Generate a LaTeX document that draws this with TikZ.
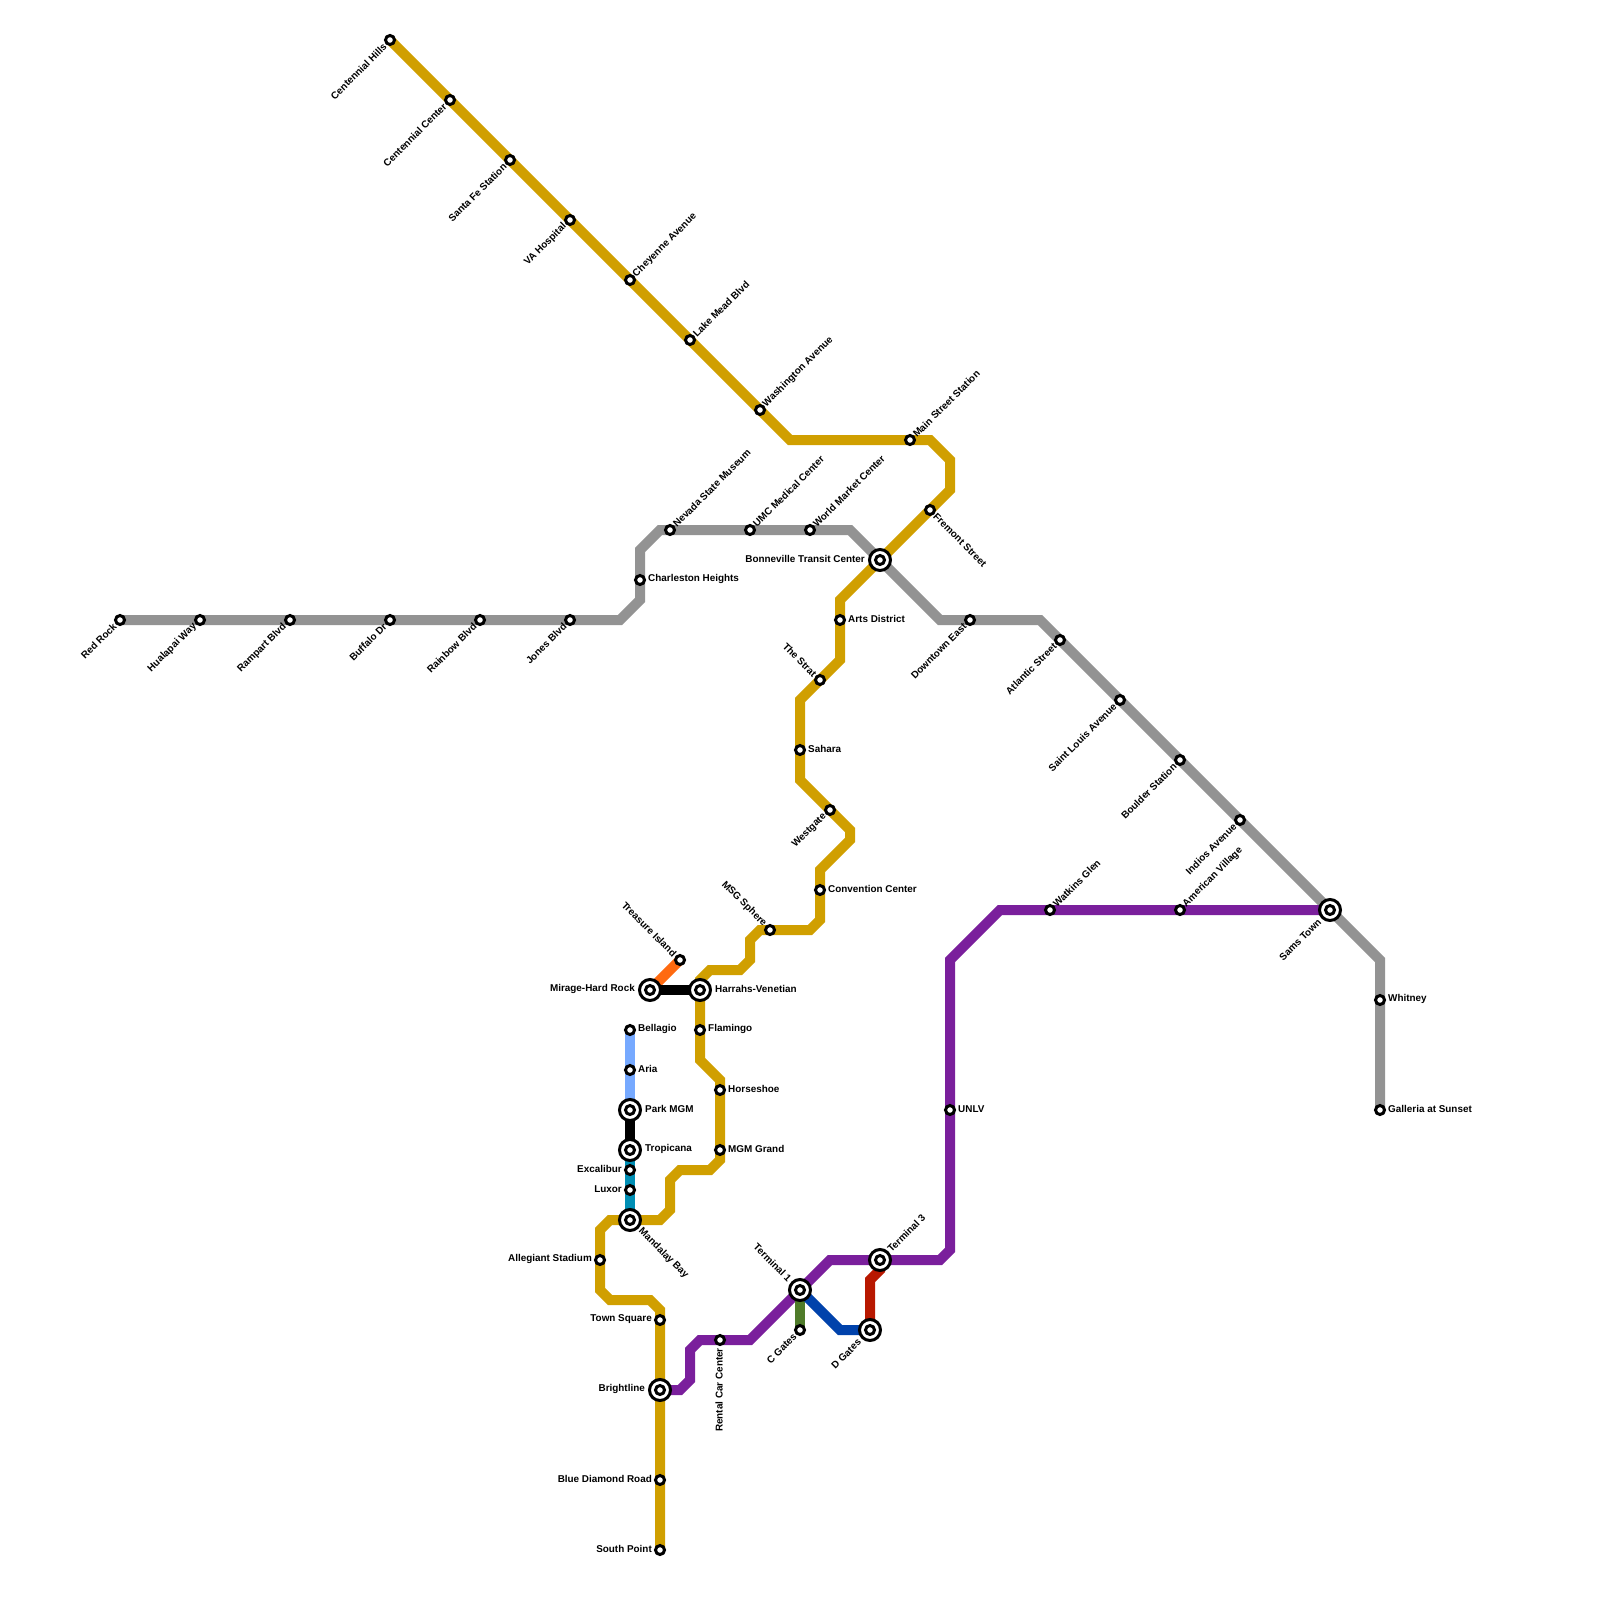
\documentclass[tikz,border=0pt]{standalone}
\usepackage{fontspec}
\setmainfont{Liberation Sans}
\usetikzlibrary{backgrounds}

\definecolor{goldln}{HTML}{D09F00}
\definecolor{grayln}{HTML}{939393}
\definecolor{purpleln}{HTML}{7A1F9C}
\definecolor{orangeln}{HTML}{FF6A10}
\definecolor{skyln}{HTML}{76A9FF}
\definecolor{tealln}{HTML}{008FB5}
\definecolor{greenln}{HTML}{4F7B2A}
\definecolor{blueln}{HTML}{0042AB}
\definecolor{redln}{HTML}{B81800}

\begin{document}
\begin{tikzpicture}[
  x=1pt, y=-1pt,
  ln/.style   ={line width=10pt},
  stn/.style  ={circle, draw=black, fill=white, line width=3pt, minimum size=9pt, inner sep=0pt, outer sep=0pt},
  hub/.style  ={circle, draw=black, fill=white, line width=3pt, minimum size=21pt, inner sep=0pt, outer sep=0pt,
                path picture={\draw[line width=3pt] (path picture bounding box.center) circle (4.5pt);}},
  lab/.style  ={font=\fontsize{9.9}{10}\selectfont\bfseries, inner sep=0pt, text=black},
  % label sides ------------------------------------
  sd/.style n args={4}{append after command={(\tikzlastnode.center)
        node[lab, name=\tikzlastnode-lab, xshift=#1pt, yshift=#2pt, rotate=#3, anchor=#4] {\lbltxt}}},
  lE/.style   ={sd={8}{0.8}{0}{west}, lbl={#1}},
  lW/.style   ={sd={-8}{0.8}{0}{east}, lbl={#1}},
  hE/.style   ={sd={15}{0.8}{0}{west}, lbl={#1}},
  hW/.style   ={sd={-15}{0.8}{0}{east}, lbl={#1}},
  lNE/.style  ={sd={4.5}{4.5}{45}{west}, lbl={#1}},
  lSW/.style  ={sd={-5}{-5}{45}{east}, lbl={#1}},
  lNW/.style  ={sd={-5}{5}{-45}{east}, lbl={#1}},
  lSE/.style  ={sd={5}{-5}{-45}{west}, lbl={#1}},
  lS/.style   ={sd={-1}{-8}{90}{east}, lbl={#1}},
  hNE/.style  ={sd={9}{9.5}{45}{west}, lbl={#1}},
  hSW/.style  ={sd={-10.5}{-10.5}{45}{east}, lbl={#1}},
  hNW/.style  ={sd={-10}{10}{-45}{east}, lbl={#1}},
  hSE/.style  ={sd={10}{-10}{-45}{west}, lbl={#1}},
  lbl/.code   ={\gdef\lbltxt{#1}},
]
\useasboundingbox (0,0) rectangle (1600,1600);

% =========================== GOLD STATIONS ==========================
\node[stn, lSW=Centennial Hills]  (chills)  at (390,40)  {};
\node[stn, lSW=Centennial Center] (ccenter) at (450,100) {};
\node[stn, lSW=Santa Fe Station]  (santafe) at (510,160) {};
\node[stn, lSW=VA Hospital]       (vahosp)  at (570,220) {};
\node[stn, lNE=Cheyenne Avenue]   (cheyenne) at (630,280) {};
\node[stn, lNE=Lake Mead Blvd]    (lakemead) at (690,340) {};
\node[stn, lNE=Washington Avenue] (washington) at (760,410) {};
\node[stn, lNE=Main Street Station] (mainst) at (910,440) {};
\node[stn, lSE=Fremont Street]    (fremont) at (930,510) {};
\node[hub, hW=Bonneville Transit Center] (bonneville) at (880,560) {};
\node[stn, lE=Arts District]      (arts)    at (840,620) {};
\node[stn, lNW=The Strat]         (strat)   at (820,680) {};
\node[stn, lE=Sahara]             (sahara)  at (800,750) {};
\node[stn, lSW=Westgate]          (westgate) at (830,810) {};
\node[stn, lE=Convention Center]  (convention) at (820,890) {};
\node[stn, lNW=MSG Sphere]        (sphere)  at (770,930) {};
\node[hub, hE=Harrahs-Venetian]   (harrahs) at (700,990) {};
\node[stn, lE=Flamingo]           (flamingo) at (700,1030) {};
\node[stn, lE=Horseshoe]          (horseshoe) at (720,1090) {};
\node[stn, lE=MGM Grand]          (mgm)     at (720,1150) {};
\node[hub, hSE=Mandalay Bay]      (mandalay) at (630,1220) {};
\node[stn, lW=Allegiant Stadium]  (allegiant) at (600,1260) {};
\node[stn, lW=Town Square]        (townsq)  at (660,1320) {};
\node[hub, hW=Brightline]         (brightline) at (660,1390) {};
\node[stn, lW=Blue Diamond Road]  (bluediamond) at (660,1480) {};
\node[stn, lW=South Point]        (southpt) at (660,1550) {};

% =========================== GRAY STATIONS ==========================
\node[stn, lSW=Red Rock]          (redrock) at (120,620) {};
\node[stn, lSW=Hualapai Way]      (hualapai) at (200,620) {};
\node[stn, lSW=Rampart Blvd]      (rampart) at (290,620) {};
\node[stn, lSW=Buffalo Dr]        (buffalo) at (390,620) {};
\node[stn, lSW=Rainbow Blvd]      (rainbow) at (480,620) {};
\node[stn, lSW=Jones Blvd]        (jones)   at (570,620) {};
\node[stn, lE=Charleston Heights] (charleston) at (640,580) {};
\node[stn, lNE=Nevada State Museum] (museum) at (670,530) {};
\node[stn, lNE=UMC Medical Center] (umc)    at (750,530) {};
\node[stn, lNE=World Market Center] (market) at (810,530) {};
\node[stn, lSW=Downtown East]     (downtown) at (970,620) {};
\node[stn, lSW=Atlantic Street]   (atlantic) at (1060,640) {};
\node[stn, lSW=Saint Louis Avenue] (stlouis) at (1120,700) {};
\node[stn, lSW=Boulder Station]   (boulder) at (1180,760) {};
\node[stn, lSW=Indios Avenue]     (indios)  at (1240,820) {};
\node[hub, hSW=Sams Town]         (sams)    at (1330,910) {};
\node[stn, lE=Whitney]            (whitney) at (1380,1000) {};
\node[stn, lE=Galleria at Sunset] (galleria) at (1380,1110) {};

% ========================== PURPLE STATIONS =========================
\node[stn, lNE=American Village]  (american) at (1180,910) {};
\node[stn, lNE=Watkins Glen]      (watkins) at (1050,910) {};
\node[stn, lE=UNLV]               (unlv)    at (950,1110) {};
\node[hub, hNE=Terminal 3]        (term3)   at (880,1260) {};
\node[hub, hNW=Terminal 1]        (term1)   at (800,1290) {};
\node[stn, lS=Rental Car Center]  (rental)  at (720,1340) {};

% ========================== SHORT LINES =============================
\node[stn, lSW=C Gates]           (cgates)  at (800,1330) {};
\node[hub, hSW=D Gates]           (dgates)  at (870,1330) {};
\node[stn, lNW=Treasure Island]   (treasure) at (680,960) {};
\node[hub, hW=Mirage-Hard Rock]   (mirage)  at (650,990) {};
\node[stn, lE=Bellagio]           (bellagio) at (630,1030) {};
\node[stn, lE=Aria]               (aria)    at (630,1070) {};
\node[hub, hE=Park MGM]           (parkmgm) at (630,1110) {};
\node[hub, hE=Tropicana]          (tropicana) at (630,1150) {};
\node[stn, lW=Excalibur]          (excalibur) at (630,1170) {};
\node[stn, lW=Luxor]              (luxor)   at (630,1190) {};

\begin{scope}[on background layer]
% =========================== GRAY LINE ==============================
\draw[ln, grayln] (redrock.center) -- (620,620) -- (640,600) -- (640,550) -- (660,530)
      -- (850,530) -- (bonneville.center) -- (940,620) -- (1040,620) -- (sams.center)
      -- (1380,960) -- (galleria.center);

% =========================== PURPLE LINE ============================
\draw[ln, purpleln] (sams.center) -- (1000,910) -- (950,960) -- (950,1250) -- (940,1260)
      -- (830,1260) -- (term1.center) -- (750,1340) -- (700,1340) -- (690,1350)
      -- (690,1380) -- (680,1390) -- (brightline.center);

% =========================== GOLD LINE ==============================
\draw[ln, goldln] (chills.center) -- (790,440) -- (930,440) -- (950,460) -- (950,490)
      -- (bonneville.center) -- (840,600) -- (840,660) -- (800,700) -- (800,780)
      -- (850,830) -- (850,840) -- (820,870) -- (820,920) -- (810,930) -- (760,930)
      -- (750,940) -- (750,960) -- (740,970) -- (710,970) -- (700,980) -- (harrahs.center)
      -- (700,1060) -- (720,1080) -- (720,1160) -- (710,1170) -- (680,1170) -- (670,1180)
      -- (670,1210) -- (660,1220) -- (610,1220) -- (600,1230) -- (600,1290) -- (610,1300)
      -- (650,1300) -- (660,1310) -- (southpt.center);

% =========================== SHORT LINES ============================
\draw[ln, orangeln] (mirage.center) -- (treasure.center);
\draw[ln, black] (mirage.center) -- (harrahs.center);
\draw[ln, skyln] (bellagio.center) -- (parkmgm.center);
\draw[ln, black] (parkmgm.center) -- (tropicana.center);
\draw[ln, tealln] (tropicana.center) -- (mandalay.center);
\draw[ln, greenln] (term1.center) -- (cgates.center);
\draw[ln, blueln] (term1.center) -- (840,1330) -- (dgates.center);
\draw[ln, redln] (dgates.center) -- (870,1280) -- (880,1270) -- (term3.center);
\end{scope}

\end{tikzpicture}
\end{document}
